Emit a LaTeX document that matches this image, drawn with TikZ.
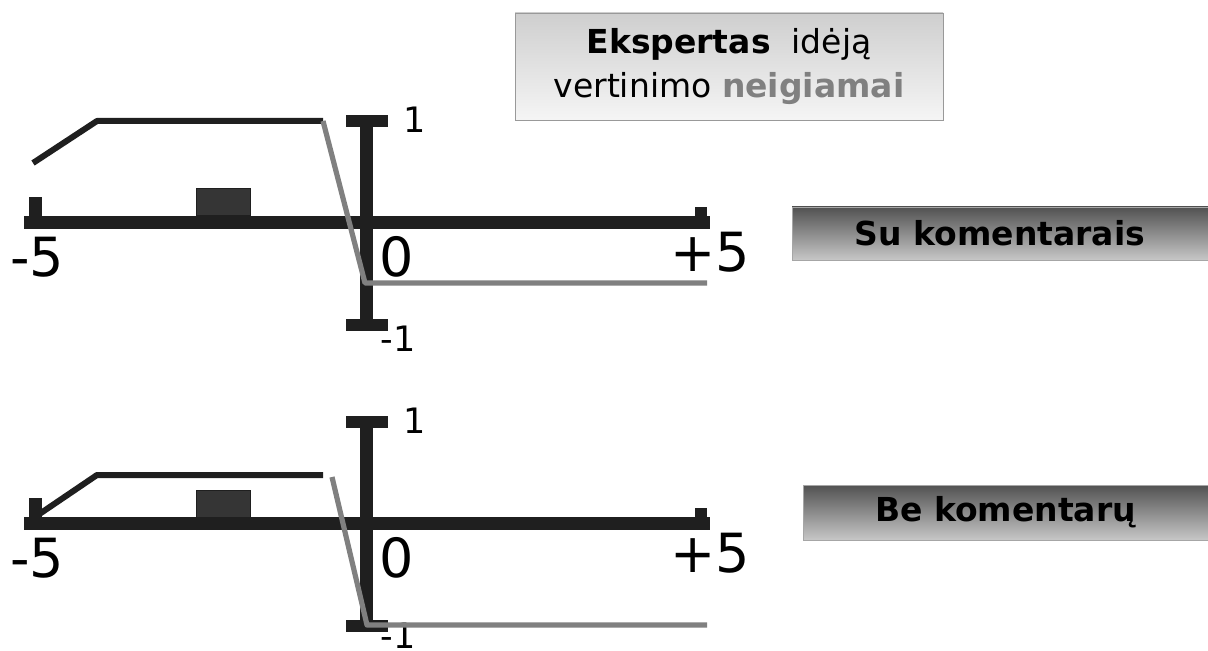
\documentclass[tikz,border=0pt]{standalone}
\usepackage{fontspec}
\setmainfont{DejaVu Sans}
\usetikzlibrary{positioning}
\definecolor{axisblack}{HTML}{1F1F1F}
\definecolor{boxfill}{HTML}{353535}
\definecolor{neggray}{HTML}{808080}

\begin{document}
\begin{tikzpicture}[x=0.5pt,y=-0.5pt,
    scalebar/.style={fill=axisblack},
    ticklab/.style={inner sep=0pt,font=\fontsize{27}{27}\selectfont},
    endlab/.style={inner sep=0pt,font=\fontsize{17.5}{17.5}\selectfont},
    opinion/.style={line width=3pt,color=axisblack,line join=round},
    shifted/.style={line width=2.6pt,color=neggray,line join=round},
    headbox/.style={draw=gray!80,top color=gray!38,bottom color=gray!8,
      minimum width=214pt,minimum height=53.5pt,inner sep=0pt,align=center,
      font=\fontsize{16.5}{22}\selectfont},
    tagbar/.style={draw=gray!70,top color=black!68,bottom color=black!22,
      inner sep=0pt,font=\fontsize{16.5}{16.5}\selectfont\bfseries}]
  \useasboundingbox (0,0) rectangle (1208,651);

  % heading
  \node[headbox] (head) at (729,66.5)
    {\textbf{Ekspertas}\ \ idėją\\vertinimo \textcolor{neggray}{\textbf{neigiamai}}};

  % both scales
  \foreach \dy/\p/\lo in {0/up/339,301/low/335}{
      \begin{scope}[shift={(0,\dy)}]
        \fill[scalebar] (24,216) rectangle (710,229);
        \fill[scalebar] (29,197) rectangle (42,216);
        \fill[scalebar] (695,207) rectangle (707,216);
        \fill[boxfill,draw=axisblack,line width=0.5pt] (196,189) rectangle (250,216);
        % vertical bar
        \fill[scalebar] (360,115) rectangle (373,331);
        \fill[scalebar] (346,115) rectangle (388,127);
        \fill[scalebar] (346,319) rectangle (388,331);
        \node[ticklab] (\p minus) at (37,257) {-5};
        \node[ticklab] (\p zero) at (397,257) {0};
        \node[ticklab] (\p plus) at (710,252) {+5};
        \node[endlab] (\p top) at (415,120) {1};
        \node[endlab] (\p bottom) at (398,\lo) {-1};
      \end{scope}
    }

  % curves
  \draw[opinion] (33,163) -- (97,121) -- (323,121);
  \draw[shifted] (323,121) -- (365,283) -- (707,283);
  \draw[opinion] (35,517) -- (97,475) -- (323,475);
  \draw[shifted] (332,477) -- (367,625) -- (707,625);

  % right labels
  \node[tagbar,minimum width=208pt,minimum height=26.5pt] (withc) at (1000,233.5) {Su komentarais};
  \node[tagbar,minimum width=202.5pt,minimum height=27.5pt] (noc) at (1005.5,512.5) {Be komentarų};
\end{tikzpicture}
\end{document}
